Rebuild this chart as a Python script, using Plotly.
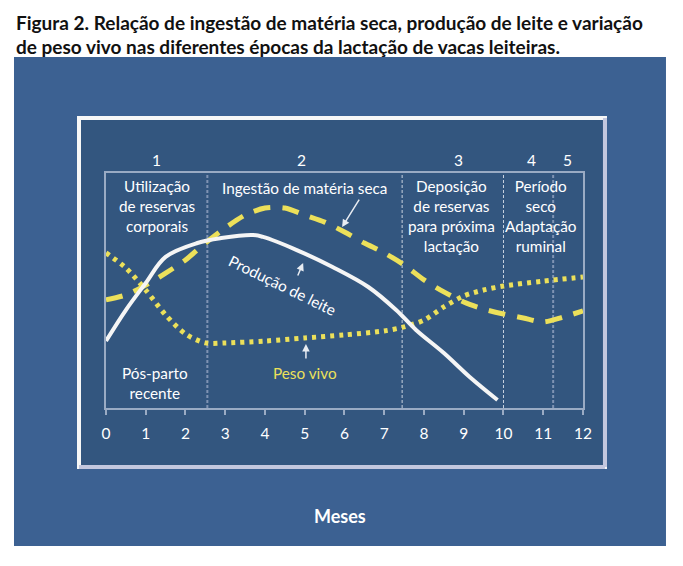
import plotly.graph_objects as go

W, H = 683, 566

# ---- data (months vs. relative level, arbitrary 0-100 scale) ----
milk_months = [0, 0.5, 1.0, 1.5, 2.3, 2.9, 3.7, 3.95, 4.8, 5.7, 6.6, 7.3, 7.8, 8.5, 9.15, 9.85]
milk_values = [28.5, 41.7, 53.2, 64.3, 70.2, 72.3, 73.6, 72.8, 67.2, 60.0, 51.5, 41.7, 33.2, 23.4, 13.2, 3.4]

dmi_months = [0, 0.5, 1, 1.5, 2, 2.5, 3, 3.5, 4, 4.5, 5, 5.5, 6, 6.5, 7, 7.5, 8, 8.5, 9, 9.5, 10, 10.5, 11, 11.5, 12]
dmi_values = [46, 48.1, 52.3, 57.4, 63, 70.2, 76.6, 82.1, 85.1, 85.1, 82.1, 79.1, 74.9, 70.2, 66, 60.9, 54.5, 49.4,
              45.1, 42.1, 40, 38.3, 36.6, 38.7, 41.3]

bw_months = [0, 0.5, 1, 1.5, 2, 2.5, 3, 4, 5, 6, 7, 7.5, 8, 8.5, 9, 9.5, 10, 11, 12]
bw_values = [66, 59.6, 50.2, 39.6, 31.5, 27.7, 27.7, 28.5, 29.8, 31.1, 32.8, 34.5, 37.4, 43, 47.7, 50.2, 51.9, 54, 55.7]

x_ticks = list(range(0, 13))
phase_dividers = [2.55, 7.45, 10.0, 11.25]
phase_numbers = ["1", "2", "3", "4", "5"]
phase_number_x = [1.28, 4.93, 8.88, 10.7, 11.6]

title_line1 = "Figura 2. Relação de ingestão de matéria seca, produção de leite e variação"
title_line2 = "de peso vivo nas diferentes épocas da lactação de vacas leiteiras."

# ---- layout geometry (pixels) ----
PX_L, PX_R, PY_T, PY_B = 106, 583, 173, 408


def px(x):
    return ((x - 4.0) / 0.981) / W


def py(y):
    return 1 - y / H


OUTER = "#3c6192"
INNER = "#33567f"
YEL = "#ece05a"
FONT = "Lato"

fig = go.Figure()

fig.add_trace(go.Scatter(x=dmi_months, y=dmi_values, mode="lines",
                         line=dict(color=YEL, width=5, dash="17px,12px", shape="spline", smoothing=0.8),
                         hoverinfo="skip", showlegend=False))
fig.add_trace(go.Scatter(x=bw_months, y=bw_values, mode="lines",
                         line=dict(color=YEL, width=5, dash="4px,5px", shape="spline", smoothing=0.8),
                         hoverinfo="skip", showlegend=False))
fig.add_trace(go.Scatter(x=milk_months, y=milk_values, mode="lines",
                         line=dict(color="#f5f5f5", width=4, shape="spline", smoothing=1.0),
                         hoverinfo="skip", showlegend=False))

shapes = []
# outer blue box
shapes.append(dict(type="rect", xref="paper", yref="paper", layer="below",
                   x0=px(14), x1=px(666), y0=py(546), y1=py(57),
                   fillcolor=OUTER, line=dict(width=0)))
# inner panel
shapes.append(dict(type="rect", xref="paper", yref="paper", layer="below",
                   x0=px(79), x1=px(605), y0=py(467), y1=py(118),
                   fillcolor=INNER, line=dict(color="#f7f7f7", width=4)))
shapes.append(dict(type="line", xref="paper", yref="paper", layer="below",
                   x0=px(605), x1=px(605), y0=py(118), y1=py(467),
                   line=dict(color="#c3c7de", width=4)))
shapes.append(dict(type="line", xref="paper", yref="paper", layer="below",
                   x0=px(79), x1=px(605), y0=py(467), y1=py(467),
                   line=dict(color="#c3c7de", width=4)))
# phase dividers
div_styles = [dict(color="#7f93b3", width=2, dash="3px,2px"),
              dict(color="#c9d2e0", width=1, dash="3px,2px"),
              dict(color="#c9d2e0", width=1, dash="3px,2px"),
              dict(color="#7f93b3", width=2, dash="3px,2px")]
for xd, st in zip(phase_dividers, div_styles):
    shapes.append(dict(type="line", xref="x", yref="y", layer="below",
                       x0=xd, x1=xd, y0=0, y1=100, line=st))

annotations = []
annotations.append(dict(xref="paper", yref="paper", x=px(14), y=py(22), xanchor="left", yanchor="middle",
                        text="<b>" + title_line1 + "</b>", showarrow=False,
                        font=dict(family=FONT, size=19, color="#111111")))
annotations.append(dict(xref="paper", yref="paper", x=px(14), y=py(46), xanchor="left", yanchor="middle",
                        text="<b>" + title_line2 + "</b>", showarrow=False,
                        font=dict(family=FONT, size=19, color="#111111")))
annotations.append(dict(xref="paper", yref="paper", x=px(340), y=py(516), xanchor="center", yanchor="middle",
                        text="<b>Meses</b>", showarrow=False,
                        font=dict(family=FONT, size=18, color="white")))
for t, xn in zip(phase_numbers, phase_number_x):
    annotations.append(dict(xref="x", yref="paper", x=xn, y=py(160), text=t, showarrow=False,
                            xanchor="center", yanchor="middle",
                            font=dict(family=FONT, size=15.5, color="white")))

wt = dict(family=FONT, size=15.3, color="white")
labels = [
    ("Utilização<br>de reservas<br>corporais", 1.28, 86.0, wt, 0),
    ("Ingestão de matéria seca", 5.0, 93.6, wt, 0),
    ("Deposição<br>de reservas<br>para próxima<br>lactação", 8.7, 81.7, wt, 0),
    ("Período<br>seco<br>Adaptação<br>ruminal", 10.94, 81.7, wt, 0),
    ("Pós-parto<br>recente", 1.23, 10.6, wt, 0),
    ("Peso vivo", 5.0, 14.9, dict(family=FONT, size=15.3, color=YEL), 0),
    ("Produção de leite", 4.43, 52.3, wt, 26),
]
for t, x, y, f, ang in labels:
    annotations.append(dict(xref="x", yref="y", x=x, y=y, text=t, showarrow=False,
                            xanchor="center", yanchor="middle", font=f, textangle=ang))

arrows = [(5.94, 77.0, 18, -29), (4.96, 61.7, -6, 14), (5.03, 27.2, 0, 16)]
for x, y, ax, ay in arrows:
    annotations.append(dict(xref="x", yref="y", x=x, y=y, ax=ax, ay=ay, text="", showarrow=True,
                            arrowhead=2, arrowsize=1, arrowwidth=1.5, arrowcolor="#e8ecf2", standoff=0))

axis_line = "#9aabc4"
fig.update_layout(
    width=W, height=H, autosize=False,
    margin=dict(l=0, r=0, t=0, b=0),
    paper_bgcolor="white",
    plot_bgcolor="rgba(0,0,0,0)",
    shapes=shapes,
    annotations=annotations,
    showlegend=False,
    xaxis=dict(domain=[px(PX_L), px(PX_R)], range=[0, 12], tickvals=x_ticks,
               ticktext=[str(v) for v in x_ticks],
               showgrid=False, zeroline=False, showline=True, mirror=True,
               linecolor=axis_line, linewidth=1.5, ticks="outside", ticklen=5,
               tickcolor=axis_line, tickwidth=1.5, ticklabelstandoff=6,
               tickfont=dict(family=FONT, size=15.5, color="white"), fixedrange=True),
    yaxis=dict(domain=[py(PY_B), py(PY_T)], range=[0, 100], showticklabels=False,
               showgrid=False, zeroline=False, showline=True, mirror=True,
               linecolor=axis_line, linewidth=1.5, ticks="", fixedrange=True),
)

fig.write_html("out.html", config={"responsive": False, "displayModeBar": False})
